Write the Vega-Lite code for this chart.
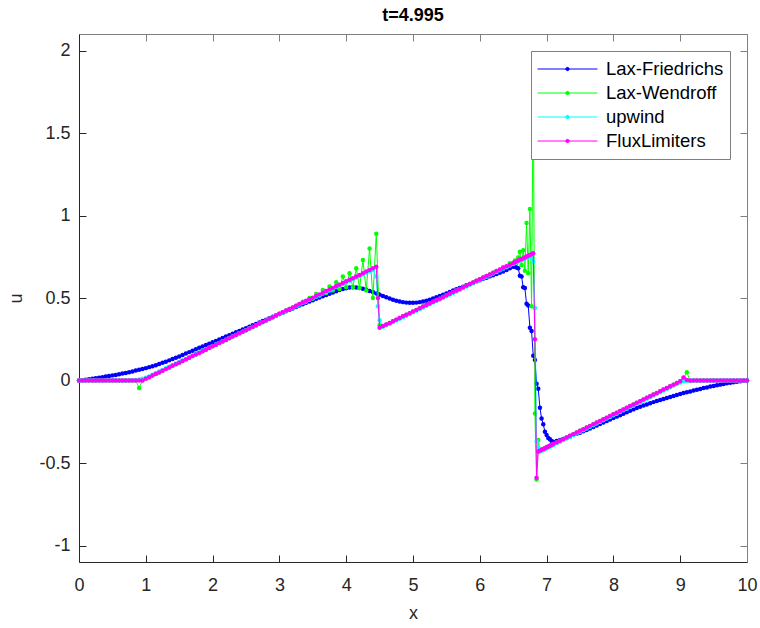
{
"$schema":"https://vega.github.io/schema/vega-lite/v6.json",
"width":668,"height":528,
"autosize":{"type":"none"},
"padding":{"left":79,"top":34,"right":13,"bottom":66},
"background":"white",
"title":{"text":"t=4.995","fontSize":18,"fontWeight":"bold","font":"Liberation Sans","color":"#000000","offset":9,"anchor":"middle","frame":"group"},
"data":{"values":[
{"x":0,"a":0,"b":0,"c":0,"d":0},
{"x":0.05,"a":0.002,"b":0,"c":0,"d":0},
{"x":0.1,"a":0.005,"b":0,"c":0,"d":0},
{"x":0.15,"a":0.008,"b":0,"c":0,"d":0},
{"x":0.2,"a":0.011,"b":0,"c":0,"d":0},
{"x":0.25,"a":0.014,"b":0,"c":0,"d":0},
{"x":0.3,"a":0.017,"b":0,"c":0,"d":0},
{"x":0.35,"a":0.02,"b":0,"c":0,"d":0},
{"x":0.4,"a":0.024,"b":0,"c":0,"d":0},
{"x":0.45,"a":0.027,"b":0,"c":0,"d":0},
{"x":0.5,"a":0.031,"b":0,"c":0,"d":0},
{"x":0.55,"a":0.034,"b":0,"c":0,"d":0},
{"x":0.6,"a":0.038,"b":0,"c":0,"d":0},
{"x":0.65,"a":0.042,"b":0,"c":0,"d":0},
{"x":0.7,"a":0.046,"b":0,"c":0,"d":0},
{"x":0.75,"a":0.05,"b":0,"c":0,"d":0},
{"x":0.8,"a":0.055,"b":0,"c":0.001,"d":0},
{"x":0.85,"a":0.06,"b":0,"c":0.003,"d":0},
{"x":0.9,"a":0.065,"b":-0.045,"c":0.006,"d":0},
{"x":0.95,"a":0.07,"b":0.001,"c":0.01,"d":0},
{"x":1,"a":0.075,"b":0.012,"c":0.016,"d":0.01},
{"x":1.05,"a":0.081,"b":0.02,"c":0.025,"d":0.02},
{"x":1.1,"a":0.087,"b":0.03,"c":0.035,"d":0.03},
{"x":1.15,"a":0.093,"b":0.039,"c":0.045,"d":0.039},
{"x":1.2,"a":0.1,"b":0.049,"c":0.054,"d":0.049},
{"x":1.25,"a":0.107,"b":0.059,"c":0.064,"d":0.059},
{"x":1.3,"a":0.114,"b":0.069,"c":0.074,"d":0.069},
{"x":1.35,"a":0.122,"b":0.079,"c":0.083,"d":0.079},
{"x":1.4,"a":0.13,"b":0.089,"c":0.093,"d":0.089},
{"x":1.45,"a":0.138,"b":0.099,"c":0.103,"d":0.099},
{"x":1.5,"a":0.146,"b":0.108,"c":0.112,"d":0.108},
{"x":1.55,"a":0.155,"b":0.118,"c":0.122,"d":0.118},
{"x":1.6,"a":0.163,"b":0.128,"c":0.131,"d":0.128},
{"x":1.65,"a":0.172,"b":0.138,"c":0.141,"d":0.138},
{"x":1.7,"a":0.18,"b":0.148,"c":0.151,"d":0.148},
{"x":1.75,"a":0.189,"b":0.158,"c":0.16,"d":0.158},
{"x":1.8,"a":0.198,"b":0.167,"c":0.17,"d":0.167},
{"x":1.85,"a":0.206,"b":0.177,"c":0.18,"d":0.177},
{"x":1.9,"a":0.215,"b":0.187,"c":0.189,"d":0.187},
{"x":1.95,"a":0.223,"b":0.197,"c":0.199,"d":0.197},
{"x":2,"a":0.232,"b":0.207,"c":0.209,"d":0.207},
{"x":2.05,"a":0.24,"b":0.217,"c":0.218,"d":0.217},
{"x":2.1,"a":0.249,"b":0.227,"c":0.228,"d":0.227},
{"x":2.15,"a":0.258,"b":0.236,"c":0.238,"d":0.236},
{"x":2.2,"a":0.266,"b":0.246,"c":0.247,"d":0.246},
{"x":2.25,"a":0.275,"b":0.256,"c":0.257,"d":0.256},
{"x":2.3,"a":0.283,"b":0.266,"c":0.267,"d":0.266},
{"x":2.35,"a":0.292,"b":0.276,"c":0.276,"d":0.276},
{"x":2.4,"a":0.3,"b":0.286,"c":0.286,"d":0.286},
{"x":2.45,"a":0.309,"b":0.296,"c":0.296,"d":0.296},
{"x":2.5,"a":0.317,"b":0.305,"c":0.305,"d":0.305},
{"x":2.55,"a":0.326,"b":0.315,"c":0.315,"d":0.315},
{"x":2.6,"a":0.335,"b":0.325,"c":0.324,"d":0.325},
{"x":2.65,"a":0.343,"b":0.335,"c":0.334,"d":0.335},
{"x":2.7,"a":0.352,"b":0.345,"c":0.344,"d":0.345},
{"x":2.75,"a":0.36,"b":0.355,"c":0.353,"d":0.355},
{"x":2.8,"a":0.369,"b":0.364,"c":0.363,"d":0.364},
{"x":2.85,"a":0.377,"b":0.374,"c":0.373,"d":0.374},
{"x":2.9,"a":0.386,"b":0.384,"c":0.382,"d":0.384},
{"x":2.95,"a":0.394,"b":0.394,"c":0.392,"d":0.394},
{"x":3,"a":0.403,"b":0.404,"c":0.402,"d":0.404},
{"x":3.05,"a":0.411,"b":0.414,"c":0.411,"d":0.414},
{"x":3.1,"a":0.42,"b":0.424,"c":0.421,"d":0.424},
{"x":3.15,"a":0.428,"b":0.433,"c":0.431,"d":0.433},
{"x":3.2,"a":0.437,"b":0.443,"c":0.44,"d":0.443},
{"x":3.25,"a":0.445,"b":0.453,"c":0.45,"d":0.453},
{"x":3.3,"a":0.454,"b":0.462,"c":0.46,"d":0.463},
{"x":3.35,"a":0.462,"b":0.478,"c":0.469,"d":0.473},
{"x":3.4,"a":0.471,"b":0.48,"c":0.479,"d":0.483},
{"x":3.45,"a":0.479,"b":0.5,"c":0.489,"d":0.493},
{"x":3.5,"a":0.487,"b":0.497,"c":0.498,"d":0.502},
{"x":3.55,"a":0.495,"b":0.525,"c":0.508,"d":0.512},
{"x":3.6,"a":0.503,"b":0.515,"c":0.517,"d":0.522},
{"x":3.65,"a":0.511,"b":0.548,"c":0.527,"d":0.532},
{"x":3.7,"a":0.518,"b":0.53,"c":0.537,"d":0.542},
{"x":3.75,"a":0.526,"b":0.57,"c":0.546,"d":0.552},
{"x":3.8,"a":0.533,"b":0.545,"c":0.556,"d":0.561},
{"x":3.85,"a":0.541,"b":0.595,"c":0.566,"d":0.571},
{"x":3.9,"a":0.548,"b":0.555,"c":0.575,"d":0.581},
{"x":3.95,"a":0.554,"b":0.63,"c":0.585,"d":0.591},
{"x":4,"a":0.559,"b":0.565,"c":0.595,"d":0.601},
{"x":4.05,"a":0.563,"b":0.65,"c":0.604,"d":0.611},
{"x":4.1,"a":0.565,"b":0.565,"c":0.614,"d":0.62},
{"x":4.15,"a":0.564,"b":0.68,"c":0.624,"d":0.63},
{"x":4.2,"a":0.561,"b":0.56,"c":0.633,"d":0.64},
{"x":4.25,"a":0.556,"b":0.73,"c":0.643,"d":0.65},
{"x":4.3,"a":0.55,"b":0.545,"c":0.653,"d":0.66},
{"x":4.35,"a":0.543,"b":0.8,"c":0.662,"d":0.67},
{"x":4.4,"a":0.536,"b":0.5,"c":0.67,"d":0.68},
{"x":4.45,"a":0.528,"b":0.89,"c":0.63,"d":0.689},
{"x":4.475,"a":0.524,"b":null,"c":0.45,"d":0.5},
{"x":4.5,"a":0.52,"b":0.335,"c":0.365,"d":0.32},
{"x":4.55,"a":0.512,"b":0.33,"c":0.326,"d":0.33},
{"x":4.6,"a":0.504,"b":0.34,"c":0.335,"d":0.34},
{"x":4.65,"a":0.497,"b":0.349,"c":0.344,"d":0.349},
{"x":4.7,"a":0.49,"b":0.359,"c":0.354,"d":0.359},
{"x":4.75,"a":0.484,"b":0.369,"c":0.364,"d":0.369},
{"x":4.8,"a":0.479,"b":0.379,"c":0.374,"d":0.379},
{"x":4.85,"a":0.475,"b":0.389,"c":0.384,"d":0.389},
{"x":4.9,"a":0.472,"b":0.398,"c":0.393,"d":0.398},
{"x":4.95,"a":0.471,"b":0.408,"c":0.403,"d":0.408},
{"x":5,"a":0.471,"b":0.418,"c":0.413,"d":0.418},
{"x":5.05,"a":0.472,"b":0.428,"c":0.423,"d":0.428},
{"x":5.1,"a":0.475,"b":0.438,"c":0.433,"d":0.438},
{"x":5.15,"a":0.479,"b":0.448,"c":0.443,"d":0.448},
{"x":5.2,"a":0.484,"b":0.457,"c":0.452,"d":0.457},
{"x":5.25,"a":0.49,"b":0.467,"c":0.462,"d":0.467},
{"x":5.3,"a":0.497,"b":0.477,"c":0.472,"d":0.477},
{"x":5.35,"a":0.504,"b":0.487,"c":0.482,"d":0.487},
{"x":5.4,"a":0.512,"b":0.496,"c":0.491,"d":0.496},
{"x":5.45,"a":0.52,"b":0.506,"c":0.501,"d":0.506},
{"x":5.5,"a":0.528,"b":0.516,"c":0.511,"d":0.516},
{"x":5.55,"a":0.537,"b":0.526,"c":0.521,"d":0.526},
{"x":5.6,"a":0.545,"b":0.536,"c":0.531,"d":0.536},
{"x":5.65,"a":0.553,"b":0.545,"c":0.54,"d":0.545},
{"x":5.7,"a":0.561,"b":0.555,"c":0.55,"d":0.555},
{"x":5.75,"a":0.569,"b":0.565,"c":0.56,"d":0.565},
{"x":5.8,"a":0.577,"b":0.575,"c":0.57,"d":0.575},
{"x":5.85,"a":0.585,"b":0.585,"c":0.58,"d":0.585},
{"x":5.9,"a":0.593,"b":0.594,"c":0.589,"d":0.594},
{"x":5.95,"a":0.601,"b":0.604,"c":0.599,"d":0.604},
{"x":6,"a":0.608,"b":0.614,"c":0.609,"d":0.614},
{"x":6.05,"a":0.616,"b":0.624,"c":0.619,"d":0.624},
{"x":6.1,"a":0.623,"b":0.634,"c":0.629,"d":0.634},
{"x":6.15,"a":0.631,"b":0.643,"c":0.638,"d":0.643},
{"x":6.2,"a":0.638,"b":0.653,"c":0.648,"d":0.653},
{"x":6.25,"a":0.646,"b":0.664,"c":0.658,"d":0.663},
{"x":6.3,"a":0.653,"b":0.671,"c":0.668,"d":0.673},
{"x":6.35,"a":0.661,"b":0.686,"c":0.678,"d":0.683},
{"x":6.4,"a":0.67,"b":0.689,"c":0.687,"d":0.692},
{"x":6.45,"a":0.68,"b":0.71,"c":0.697,"d":0.702},
{"x":6.5,"a":0.69,"b":0.706,"c":0.707,"d":0.712},
{"x":6.525,"a":0.69,"b":0.728,"c":0.712,"d":0.717},
{"x":6.55,"a":0.685,"b":0.712,"c":0.717,"d":0.722},
{"x":6.575,"a":0.68,"b":0.745,"c":0.722,"d":0.727},
{"x":6.6,"a":0.635,"b":0.78,"c":0.727,"d":0.732},
{"x":6.625,"a":0.63,"b":0.7,"c":0.732,"d":0.737},
{"x":6.65,"a":0.565,"b":0.79,"c":0.736,"d":0.741},
{"x":6.675,"a":0.56,"b":0.665,"c":0.741,"d":0.746},
{"x":6.7,"a":0.465,"b":0.955,"c":0.746,"d":0.751},
{"x":6.725,"a":0.455,"b":0.65,"c":0.751,"d":0.756},
{"x":6.75,"a":0.32,"b":1.04,"c":0.752,"d":0.761},
{"x":6.775,"a":0.3,"b":0.45,"c":0.745,"d":0.766},
{"x":6.8,"a":0.15,"b":1.85,"c":0.72,"d":0.771},
{"x":6.825,"a":0.125,"b":-0.2,"c":0.44,"d":0.25},
{"x":6.85,"a":-0.02,"b":-0.6,"c":-0.37,"d":-0.59},
{"x":6.875,"a":-0.05,"b":-0.36,"c":-0.405,"d":-0.43},
{"x":6.9,"a":-0.165,"b":-0.425,"c":-0.431,"d":-0.425},
{"x":6.925,"a":-0.23,"b":-0.42,"c":-0.426,"d":-0.42},
{"x":6.95,"a":-0.265,"b":-0.415,"c":-0.421,"d":-0.415},
{"x":6.975,"a":-0.31,"b":-0.41,"c":-0.416,"d":-0.41},
{"x":7,"a":-0.33,"b":-0.405,"c":-0.411,"d":-0.405},
{"x":7.025,"a":-0.348,"b":-0.4,"c":-0.406,"d":-0.4},
{"x":7.05,"a":-0.356,"b":-0.395,"c":-0.401,"d":-0.395},
{"x":7.075,"a":-0.366,"b":-0.39,"c":-0.396,"d":-0.39},
{"x":7.1,"a":-0.372,"b":-0.385,"c":-0.391,"d":-0.385},
{"x":7.15,"a":-0.367,"b":-0.375,"c":-0.381,"d":-0.375},
{"x":7.2,"a":-0.361,"b":-0.365,"c":-0.371,"d":-0.365},
{"x":7.25,"a":-0.354,"b":-0.355,"c":-0.361,"d":-0.355},
{"x":7.3,"a":-0.347,"b":-0.345,"c":-0.351,"d":-0.345},
{"x":7.35,"a":-0.339,"b":-0.335,"c":-0.341,"d":-0.335},
{"x":7.4,"a":-0.331,"b":-0.325,"c":-0.331,"d":-0.325},
{"x":7.45,"a":-0.323,"b":-0.315,"c":-0.321,"d":-0.315},
{"x":7.5,"a":-0.316,"b":-0.305,"c":-0.311,"d":-0.305},
{"x":7.55,"a":-0.308,"b":-0.295,"c":-0.301,"d":-0.295},
{"x":7.6,"a":-0.3,"b":-0.285,"c":-0.291,"d":-0.285},
{"x":7.65,"a":-0.291,"b":-0.275,"c":-0.281,"d":-0.275},
{"x":7.7,"a":-0.282,"b":-0.265,"c":-0.271,"d":-0.265},
{"x":7.75,"a":-0.273,"b":-0.255,"c":-0.261,"d":-0.255},
{"x":7.8,"a":-0.264,"b":-0.245,"c":-0.251,"d":-0.245},
{"x":7.85,"a":-0.255,"b":-0.235,"c":-0.241,"d":-0.235},
{"x":7.9,"a":-0.246,"b":-0.225,"c":-0.231,"d":-0.225},
{"x":7.95,"a":-0.237,"b":-0.215,"c":-0.221,"d":-0.215},
{"x":8,"a":-0.228,"b":-0.205,"c":-0.211,"d":-0.205},
{"x":8.05,"a":-0.219,"b":-0.195,"c":-0.201,"d":-0.195},
{"x":8.1,"a":-0.21,"b":-0.185,"c":-0.191,"d":-0.185},
{"x":8.15,"a":-0.201,"b":-0.175,"c":-0.181,"d":-0.175},
{"x":8.2,"a":-0.192,"b":-0.165,"c":-0.171,"d":-0.165},
{"x":8.25,"a":-0.183,"b":-0.155,"c":-0.161,"d":-0.155},
{"x":8.3,"a":-0.175,"b":-0.145,"c":-0.151,"d":-0.145},
{"x":8.35,"a":-0.167,"b":-0.135,"c":-0.141,"d":-0.135},
{"x":8.4,"a":-0.159,"b":-0.125,"c":-0.131,"d":-0.125},
{"x":8.45,"a":-0.152,"b":-0.115,"c":-0.121,"d":-0.115},
{"x":8.5,"a":-0.145,"b":-0.105,"c":-0.111,"d":-0.105},
{"x":8.55,"a":-0.138,"b":-0.095,"c":-0.101,"d":-0.095},
{"x":8.6,"a":-0.131,"b":-0.085,"c":-0.091,"d":-0.085},
{"x":8.65,"a":-0.124,"b":-0.075,"c":-0.081,"d":-0.075},
{"x":8.7,"a":-0.118,"b":-0.065,"c":-0.071,"d":-0.065},
{"x":8.75,"a":-0.112,"b":-0.055,"c":-0.061,"d":-0.055},
{"x":8.8,"a":-0.106,"b":-0.045,"c":-0.051,"d":-0.045},
{"x":8.85,"a":-0.1,"b":-0.035,"c":-0.041,"d":-0.035},
{"x":8.9,"a":-0.094,"b":-0.025,"c":-0.031,"d":-0.025},
{"x":8.95,"a":-0.088,"b":-0.015,"c":-0.021,"d":-0.015},
{"x":9,"a":-0.082,"b":-0.005,"c":-0.012,"d":-0.005},
{"x":9.05,"a":-0.076,"b":0.015,"c":-0.004,"d":0.018},
{"x":9.1,"a":-0.071,"b":0.05,"c":-0.001,"d":0.003},
{"x":9.15,"a":-0.066,"b":-0.003,"c":0,"d":0},
{"x":9.2,"a":-0.061,"b":0,"c":0,"d":0},
{"x":9.25,"a":-0.056,"b":0,"c":0,"d":0},
{"x":9.3,"a":-0.051,"b":0,"c":0,"d":0},
{"x":9.35,"a":-0.046,"b":0,"c":0,"d":0},
{"x":9.4,"a":-0.042,"b":0,"c":0,"d":0},
{"x":9.45,"a":-0.037,"b":0,"c":0,"d":0},
{"x":9.5,"a":-0.033,"b":0,"c":0,"d":0},
{"x":9.55,"a":-0.029,"b":0,"c":0,"d":0},
{"x":9.6,"a":-0.025,"b":0,"c":0,"d":0},
{"x":9.65,"a":-0.021,"b":0,"c":0,"d":0},
{"x":9.7,"a":-0.017,"b":0,"c":0,"d":0},
{"x":9.75,"a":-0.014,"b":0,"c":0,"d":0},
{"x":9.8,"a":-0.01,"b":0,"c":0,"d":0},
{"x":9.85,"a":-0.007,"b":0,"c":0,"d":0},
{"x":9.9,"a":-0.004,"b":0,"c":0,"d":0},
{"x":9.95,"a":-0.002,"b":0,"c":0,"d":0},
{"x":10,"a":0,"b":0,"c":0,"d":0}
]},
"transform":[
{"fold":["a","b","c","d"],"as":["key","u"]},
{"filter":"isValid(datum.u)"}
],
"layer":[
{
"encoding":{
"x":{"field":"x","type":"quantitative","scale":{"domain":[0,10],"nice":false,"zero":false},
"axis":{"orient":"bottom","values":[0,1,2,3,4,5,6,7,8,9,10],"title":"x","tickSize":-7,"labelPadding":21,"titlePadding":10,"domainColor":"#262626","tickColor":"#262626"}},
"y":{"field":"u","type":"quantitative","scale":{"domain":[-1.1,2.1],"nice":false,"zero":false},
"axis":{"orient":"left","values":[-1,-0.5,0,0.5,1,1.5,2],"format":"~g","title":"u","tickSize":-7,"labelPadding":16,"titlePadding":13,"domainColor":"#262626","tickColor":"#262626","labelExpr":"replace(datum.label, '\u2212', '-')"}},
"color":{"field":"key","type":"nominal","scale":{"domain":["a","b","c","d"],"range":["#0000ff","#00ff00","#00ffff","#ff00ff"]},
"legend":{"title":null,"orient":"top-right","offset":17,"zindex":5,"fillColor":"white","strokeColor":"#7f7f7f","padding":6,
"symbolType":"M-1,0H1M0.055,0A0.055,0.055,0,1,1,-0.055,0A0.055,0.055,0,1,1,0.055,0Z",
"symbolSize":3600,"symbolStrokeWidth":1,"clipHeight":24,"rowPadding":0,"labelOffset":8,
"labelFontSize":18.5,"labelFont":"Liberation Sans","labelColor":"#000000","labelLimit":300,
"labelExpr":"datum.label == 'a' ? 'Lax-Friedrichs' : datum.label == 'b' ? 'Lax-Wendroff' : datum.label == 'c' ? 'upwind' : 'FluxLimiters'",
"encode":{"symbols":{"update":{"fill":{"scale":"color","field":"value"},"stroke":{"scale":"color","field":"value"},"strokeWidth":{"value":1},"opacity":{"value":1}}}}}}
},
"layer":[
{"transform":[{"filter":"datum.key === 'a'"}],"mark":{"type":"line","strokeWidth":1,"point":{"filled":true,"size":20,"opacity":1}}},
{"transform":[{"filter":"datum.key === 'b'"}],"mark":{"type":"line","strokeWidth":1,"point":{"filled":true,"size":20,"opacity":1}}},
{"transform":[{"filter":"datum.key === 'c'"}],"mark":{"type":"line","strokeWidth":1,"point":{"filled":true,"size":20,"opacity":1}}},
{"transform":[{"filter":"datum.key === 'd'"}],"mark":{"type":"line","strokeWidth":1,"point":{"filled":true,"size":20,"opacity":1}}}
]
},
{
"mark":{"type":"point","opacity":0},
"encoding":{
"x":{"field":"x","type":"quantitative","axis":{"orient":"top","values":[0,1,2,3,4,5,6,7,8,9,10],"labels":false,"title":null,"tickSize":-7,"domainColor":"#7f7f7f","tickColor":"#7f7f7f"}},
"y":{"field":"u","type":"quantitative","axis":{"orient":"right","values":[-1,-0.5,0,0.5,1,1.5,2],"labels":false,"title":null,"tickSize":-7,"domainColor":"#7f7f7f","tickColor":"#7f7f7f"}}
}
}
],
"resolve":{"axis":{"x":"independent","y":"independent"}},
"config":{
"view":{"stroke":null},
"axis":{"grid":false,"labelFont":"Liberation Sans","labelFontSize":18,"labelColor":"#262626","titleFont":"Liberation Sans","titleFontSize":18,"titleFontWeight":"normal","titleColor":"#262626","labelFlush":false,"labelOverlap":false,"domainWidth":1,"tickWidth":1}
}
}
